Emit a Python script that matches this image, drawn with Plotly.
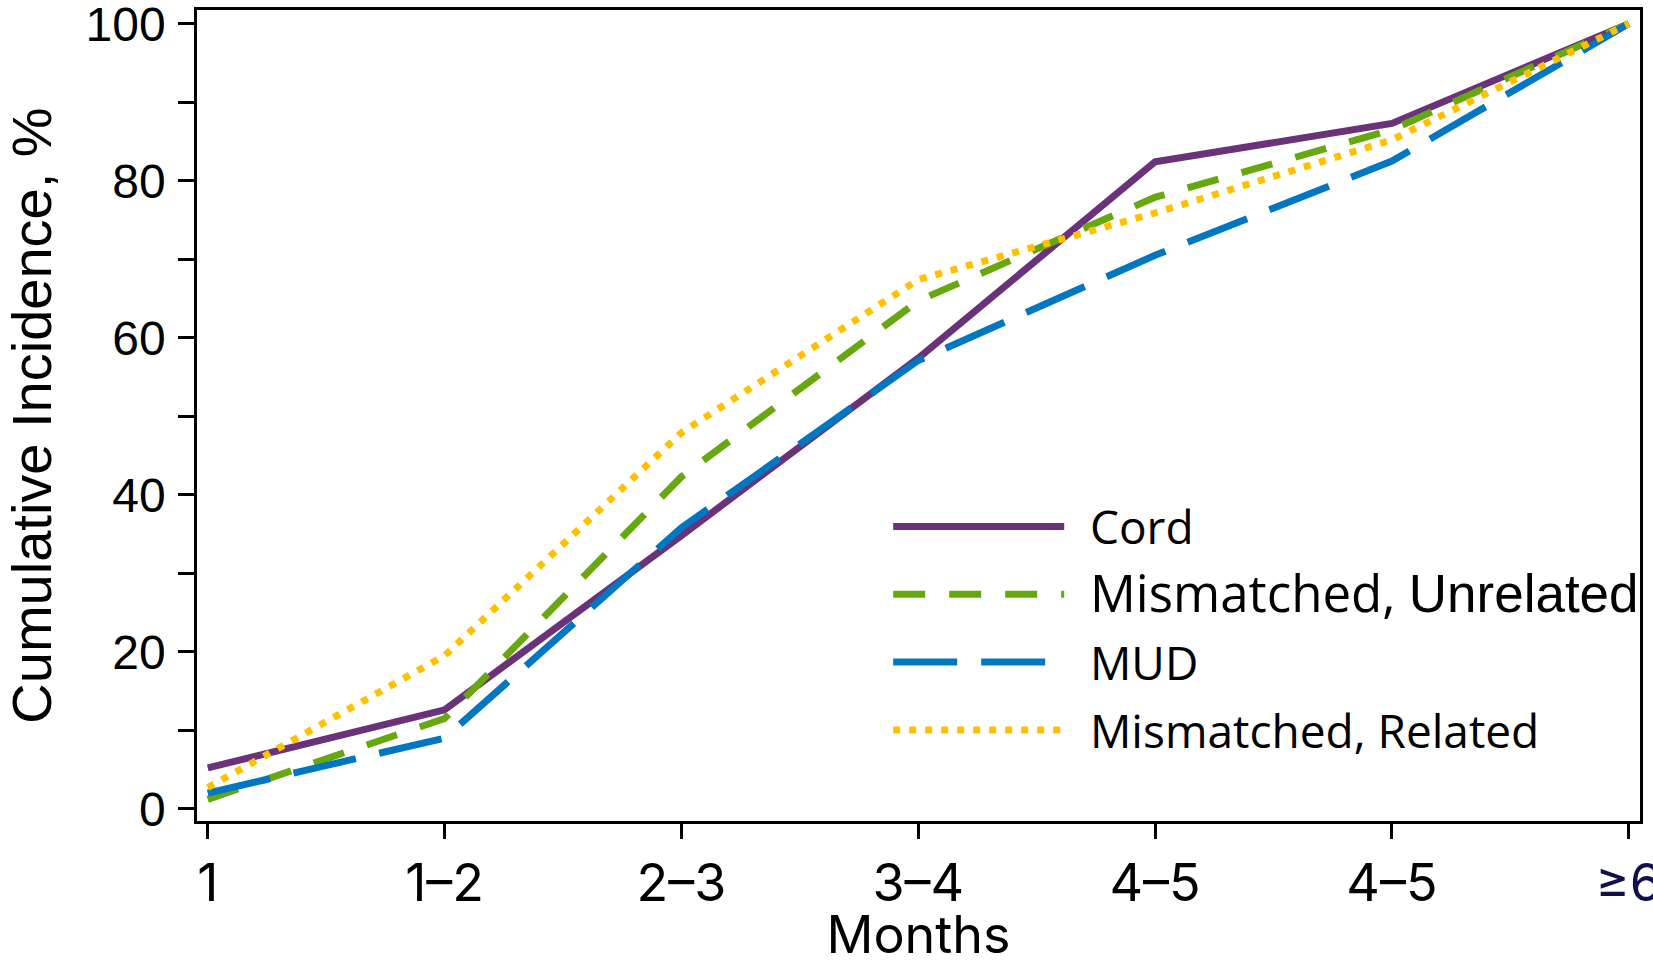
import plotly.graph_objects as go

months = ["1", "1–2", "2–3", "3–4", "4–5", "4–5", "≥6"]
cord = [5.2, 12.6, 34.8, 57.4, 82.4, 87.3, 100]
mismatched_unrelated = [1.2, 11.5, 42.3, 64.7, 77.9, 86.5, 100]
mud = [2.0, 9.0, 35.8, 57.1, 70.5, 82.5, 100]
mismatched_related = [2.7, 19.5, 47.9, 67.4, 75.9, 85.2, 100]

pad = '<span style="font-size:40px">\u00a0\u00a0</span>'
names = [pad + "Cord",
         pad + "<span style=\"font-size:51px\">Mismatched,\u00a0</span>"
               "<span style=\"font-family:'Liberation Sans', Arial; font-size:53px\">Unrelated</span>",
         pad + "MUD",
         pad + "Mismatched, Related"]
colors = ["#693279", "#67A70F", "#0077C0", "#FFC000"]
dashes = ["solid", "32px,24px", "64px,24px", "7px,9px"]
series = [cord, mismatched_unrelated, mud, mismatched_related]

x = list(range(len(months)))
tick_text = months[:-1] + ['<span style="color:#10104f">' + months[-1] + '</span>']

fig = go.Figure()
for i, (nm, ys) in enumerate(zip(names, series)):
    fig.add_trace(go.Scatter(
        x=x, y=ys, mode="lines", name=nm, legendgroup=str(i),
        line=dict(color=colors[i], width=7, dash=dashes[i]),
    ))

fig.update_layout(
    width=1653, height=966,
    margin=dict(l=197, r=13, t=10, b=145, autoexpand=False),
    paper_bgcolor="white", plot_bgcolor="white",
    showlegend=True,
    legend=dict(
        x=0.479, y=0.408, xanchor="left", yanchor="top",
        bgcolor="rgba(0,0,0,0)", borderwidth=0,
        font=dict(family="Open Sans", size=46, color="black"),
        itemwidth=171, tracegroupgap=5,
    ),
    xaxis=dict(
        range=[-0.0454, 6.0475], tickmode="array", tickvals=x, ticktext=tick_text,
        showgrid=False, zeroline=False,
        showline=True, linecolor="black", linewidth=2.5, mirror=True,
        ticks="outside", ticklen=15, tickwidth=2.5, tickcolor="black",
        ticklabeloverflow="allow",
        tickfont=dict(family="Inter", size=52, color="black"),
        title=dict(text="Months", font=dict(family="Inter", size=52, color="black"), standoff=10),
    ),
    yaxis=dict(
        range=[-1.56, 101.75], tickmode="array", tickvals=[0, 20, 40, 60, 80, 100],
        showgrid=False, zeroline=False,
        showline=True, linecolor="black", linewidth=2.5, mirror=True,
        ticks="outside", ticklen=16, tickwidth=2.5, tickcolor="black",
        ticklabeloverflow="allow", ticklabelstandoff=3,
        minor=dict(dtick=10, tick0=0, ticks="outside", ticklen=16, tickwidth=2.5, tickcolor="black"),
        tickfont=dict(family="Liberation Sans", size=48, color="black"),
        title=dict(text="Cumulative Incidence, %", font=dict(family="Liberation Sans", size=56, color="black"), standoff=43),
    ),
)

fig.write_html("out.html")
